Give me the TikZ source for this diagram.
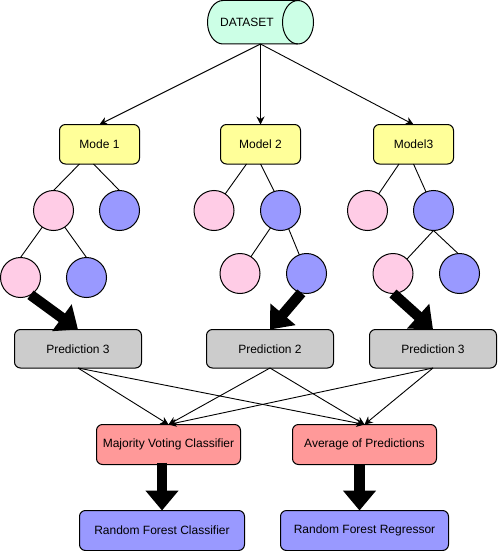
\documentclass[tikz,border=0pt]{standalone}
\usepackage{fontspec}
\setmainfont{Liberation Sans}
\usetikzlibrary{arrows.meta,calc}
\definecolor{mint}{HTML}{CCFFE6}
\definecolor{paleyellow}{HTML}{FFFF99}
\definecolor{palepink}{HTML}{FFCCE6}
\definecolor{paleblue}{HTML}{9999FF}
\definecolor{palegray}{HTML}{CCCCCC}
\definecolor{palered}{HTML}{FF9999}
\tikzset{
  x=1pt,y=-1pt,
  every node/.style={font=\fontsize{12}{14}\selectfont,text=black,outer sep=0pt,inner sep=0pt,line width=1pt},
  box/.style={draw,rounded corners=6pt,anchor=north west,align=center},
  modelbox/.style={box,fill=paleyellow,minimum width=80pt,minimum height=39.5pt},
  predbox/.style={box,fill=palegray,minimum width=127pt,minimum height=38.5pt},
  votebox/.style={box,fill=palered,minimum width=144pt,minimum height=40pt},
  leafp/.style={circle,draw,fill=palepink,minimum size=40pt},
  leafb/.style={circle,draw,fill=paleblue,minimum size=40pt},
  thin link/.style={line width=0.9pt,-{Stealth[length=8pt,width=8pt]}},
  tree link/.style={line width=0.9pt},
  block link/.style={line width=10.5pt,-{Triangle[length=20pt,width=32pt]}},
}
\begin{document}
\begin{tikzpicture}
\useasboundingbox (0,0) rectangle (498,551);
\node[minimum width=106pt,minimum height=43.5pt] (data) at (260.5,22.25) {};
\draw[line width=1pt,fill=mint] (data.north east) ++(-15.5,0) -- ++(-75,0)
  arc[start angle=90,end angle=270,x radius=15.5,y radius=-21.75] -- ++(75,0)
  arc[start angle=270,end angle=450,x radius=15.5,y radius=-21.75] -- cycle;
\draw[line width=1pt] (data.north east) ++(-15.5,0)
  arc[start angle=90,end angle=270,x radius=15.5,y radius=-21.75];
\node (datalabel) at (247,22) {DATASET};
\node[modelbox] (m1) at (59.5,124.5) {Mode 1};
\node[modelbox] (m2) at (220.5,124.5) {Model 2};
\node[modelbox] (m3) at (373.5,124.5) {Model3};
\draw[thin link] (data.south) -- (m1.north);
\draw[thin link] (data.south) -- (m2.north);
\draw[thin link] (data.south) -- (m3.north);
% tree 1
\node[leafp] (a1) at (53.5,210.5) {};
\node[leafb] (a2) at (119.5,210.5) {};
\node[leafp] (a3) at (20.5,277.5) {};
\node[leafb] (a4) at (86.5,277.5) {};
% tree 2
\node[leafp] (b1) at (214,210.5) {};
\node[leafb] (b2) at (280.5,210.5) {};
\node[leafp] (b3) at (240,273.5) {};
\node[leafb] (b4) at (306.5,273.5) {};
% tree 3
\node[leafp] (c1) at (367.5,210.5) {};
\node[leafb] (c2) at (433.5,210.5) {};
\node[leafp] (c3) at (393,273.5) {};
\node[leafb] (c4) at (459.5,273.5) {};
\draw[tree link] ($(m1.south)+(-20,0)$) -- (a1.north);
\draw[tree link] ($(m1.south)+(-6,0)$) -- (a2.north);
\draw[tree link] (a1.236) -- (a3.north);
\draw[tree link] (a1.304) -- (a4.north);
\draw[tree link] ($(m2.south)+(-14,0)$) -- (b1.56);
\draw[tree link] (m2.south) -- (b2.108);
\draw[tree link] (b2.240) -- (b3.57);
\draw[tree link] (b2.294) -- (b4.111);
\draw[tree link] ($(m3.south)+(-14.5,0)$) -- (c1.56);
\draw[tree link] (m3.south) -- (c2.112);
\draw[tree link] (c2.south) -- (c3.46);
\draw[tree link] (c2.south) -- (c4.94);
% predictions
\node[predbox] (p1) at (14.5,329.5) {Prediction 3};
\node[predbox] (p2) at (206.5,329.5) {Prediction 2};
\node[predbox] (p3) at (369.5,329.5) {Prediction 3};
\draw[block link] (a3.300) -- (p1.north);
\draw[block link] (b4.255) -- (p2.north);
\draw[block link] (c3.south) -- (p3.north);
% aggregation
\node[votebox] (v1) at (96.5,424.5) {Majority Voting Classifier};
\node[votebox] (v2) at (292.5,424.5) {Average of Predictions};
\draw[thin link] (p1.south) -- (v1.north);
\draw[thin link] (p2.south) -- (v1.north);
\draw[thin link] (p3.south) -- (v1.north);
\draw[thin link] (p1.south) -- (v2.north);
\draw[thin link] (p2.south) -- (v2.north);
\draw[thin link] (p3.south) -- (v2.north);
% results
\node[box,fill=paleblue,minimum width=165pt,minimum height=40pt] (r1) at (79.5,510.5) {Random Forest Classifier};
\node[box,fill=paleblue,minimum width=168pt,minimum height=40pt] (r2) at (280.5,510.5) {Random Forest Regressor};
\draw[block link] ($(v1.south -| r1.north)+(0,-2)$) -- (r1.north);
\draw[block link] ($(v2.south)+(-5,0)$) -- ($(r2.north)+(-5,0)$);
\end{tikzpicture}
\end{document}
